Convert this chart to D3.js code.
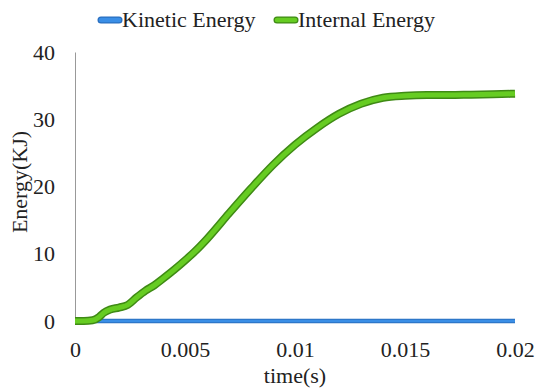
<!DOCTYPE html>
<html>
<head>
<meta charset="utf-8">
<script src="https://cdn.jsdelivr.net/npm/d3@7"></script>
<style>
  body { margin: 0; background: #fff; }
  svg text { font-family: "Liberation Serif", Tinos, "DejaVu Serif", serif !important; fill: #222; }
</style>
</head>
<body>
<div id="chart"></div>
<script>
// time values (s)
const times = [0, 0.0004, 0.0008, 0.0011, 0.0013, 0.0016, 0.002, 0.0024, 0.0028, 0.0032,
  0.0036, 0.004, 0.0045, 0.005, 0.0055, 0.006, 0.007, 0.008, 0.009, 0.010,
  0.011, 0.012, 0.013, 0.014, 0.015, 0.016, 0.017, 0.018, 0.019, 0.020];
// energies (KJ)
const internalEnergy = [0, 0, 0.1, 0.6, 1.2, 1.7, 2.0, 2.4, 3.5, 4.5,
  5.3, 6.3, 7.6, 9.0, 10.5, 12.2, 16.0, 19.7, 23.2, 26.2,
  28.7, 30.8, 32.3, 33.2, 33.5, 33.6, 33.6, 33.65, 33.7, 33.8];
const kineticEnergy = times.map(() => 0);

const xTicks = [0, 0.005, 0.01, 0.015, 0.02];
const yTicks = [0, 10, 20, 30, 40];
const seriesNames = ["Kinetic Energy", "Internal Energy"];

const width = 536, height = 389;
const marginLeft = 75, marginRight = 21, marginTop = 52, marginBottom = 68;

const svg = d3.select("#chart").append("svg")
    .attr("width", width)
    .attr("height", height);

const x = d3.scaleLinear().domain([0, 0.02]).range([marginLeft, width - marginRight]);
const y = d3.scaleLinear().domain([0, 40]).range([height - marginBottom, marginTop]);

// y axis
svg.append("g")
    .attr("transform", `translate(${marginLeft},0)`)
    .call(d3.axisLeft(y).tickValues(yTicks).tickSize(0).tickPadding(20).tickFormat(d3.format("d")))
    .call(g => g.attr("font-family", null))
    .call(g => g.select(".domain").attr("stroke", "#999").attr("stroke-width", 1))
    .call(g => g.selectAll("text").attr("font-size", 22).attr("fill", "#222"));

// x axis (labels only)
svg.append("g")
    .attr("transform", `translate(0,${height - marginBottom})`)
    .call(d3.axisBottom(x).tickValues(xTicks).tickSize(0).tickPadding(20).tickFormat(d => d === 0 ? "0" : String(d)))
    .call(g => g.attr("font-family", null))
    .call(g => g.select(".domain").remove())
    .call(g => g.selectAll("text").attr("font-size", 22).attr("fill", "#222"));

// axis titles
svg.append("text")
    .attr("x", (marginLeft + width - marginRight) / 2)
    .attr("y", 383)
    .attr("text-anchor", "middle")
    .attr("font-size", 22)
    .text("time(s)");

svg.append("text")
    .attr("transform", "translate(27,182) rotate(-90)")
    .attr("text-anchor", "middle")
    .attr("font-size", 22)
    .text("Energy(KJ)");

const line = d3.line()
    .x((d, i) => x(times[i]))
    .y(d => y(d))
    .curve(d3.curveMonotoneX);

// kinetic energy
svg.append("path")
    .attr("d", line(kineticEnergy))
    .attr("fill", "none")
    .attr("stroke", "#2a6fbf")
    .attr("stroke-width", 4.5);
svg.append("path")
    .attr("d", line(kineticEnergy))
    .attr("fill", "none")
    .attr("stroke", "#3a8ee6")
    .attr("stroke-width", 2.5);

// internal energy
svg.append("path")
    .attr("d", line(internalEnergy))
    .attr("fill", "none")
    .attr("stroke", "#3f8a15")
    .attr("stroke-width", 8)
    .attr("stroke-linejoin", "round");
svg.append("path")
    .attr("d", line(internalEnergy))
    .attr("fill", "none")
    .attr("stroke", "#66cc22")
    .attr("stroke-width", 5)
    .attr("stroke-linejoin", "round");

// legend
const legendColors = [["#2a6fbf", "#3a8ee6"], ["#3f8a15", "#66cc22"]];
const legendX = [101, 277];
seriesNames.forEach((name, i) => {
    const g = svg.append("g").attr("transform", `translate(${legendX[i]},20)`);
    g.append("line").attr("x1", 0).attr("x2", 18).attr("y1", 0).attr("y2", 0)
        .attr("stroke", legendColors[i][0]).attr("stroke-width", 7).attr("stroke-linecap", "round");
    g.append("line").attr("x1", 0).attr("x2", 18).attr("y1", 0).attr("y2", 0)
        .attr("stroke", legendColors[i][1]).attr("stroke-width", 4.5).attr("stroke-linecap", "round");
    g.append("text").attr("x", 21).attr("y", 7).attr("font-size", 22).text(name);
});
</script>
</body>
</html>
